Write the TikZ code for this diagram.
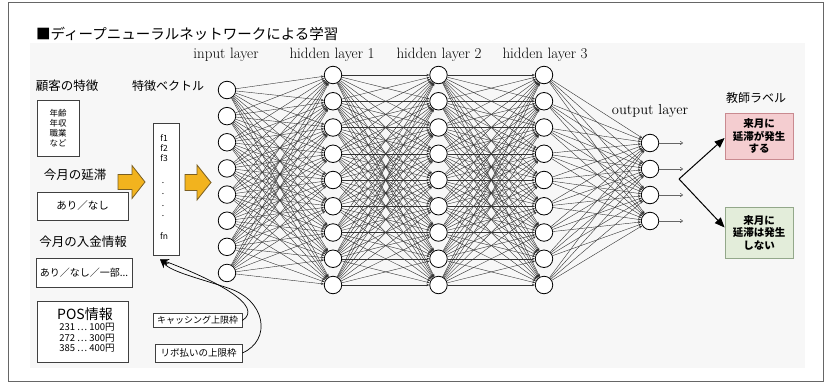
\documentclass[tikz,border=0pt]{standalone}
\usepackage{fontspec}
\newfontfamily\jp{Noto Sans CJK JP}
\usetikzlibrary{arrows.meta,calc}
\definecolor{yarrow}{HTML}{F2B31E}
\definecolor{yedge}{HTML}{7A5E22}
\definecolor{pinkfill}{HTML}{F4CDD0}
\definecolor{pinkedge}{HTML}{C98A90}
\definecolor{greenfill}{HTML}{E3EDDA}
\definecolor{greenedge}{HTML}{93A88A}
\begin{document}
\begin{tikzpicture}[x=1pt,y=-1pt,
  neuron/.style={circle,draw=black,line width=0.8pt,fill=white,minimum size=17.5pt,inner sep=0pt},
  conn/.style={draw=black!80,line width=0.4pt,-{Stealth[length=3pt,width=2.4pt]}},
  outarrow/.style={draw=black!60,line width=0.6pt,-{To[length=3pt,width=4pt]}},
  bigarrow/.style={draw=black,line width=1pt,-{Triangle[length=10pt,width=8pt]}},
  curvearrow/.style={draw=black,line width=0.7pt,-{Stealth[length=9pt,width=7pt]}},
  layerlbl/.style={font=\fontsize{15}{17}\selectfont,inner sep=0pt},
  jplbl/.style={font=\jp\fontsize{12.5}{14}\selectfont,inner sep=0pt},
  plainbox/.style={draw=black!75,line width=0.7pt,fill=white,inner sep=0pt},
  smalltxt/.style={font=\jp\fontsize{8.5}{10}\selectfont,inner sep=0pt},
  labelbox/.style={line width=0.8pt,inner sep=0pt,align=center,font=\jp\bfseries\fontsize{10.5}{12.5}\selectfont},
]
\useasboundingbox (0,0) rectangle (832,383);
\fill[white] (0,0) rectangle (832,383);
\fill[black!3] (30,43) rectangle (805,368);
\draw[black!60,line width=0.8pt] (8.5,2.5) rectangle (823,381.5);

% title
\node[anchor=west,inner sep=0pt,font=\jp\fontsize{14.5}{16}\selectfont] (title) at (36,34) {■ディープニューラルネットワークによる学習};

% layer labels
\node[layerlbl] (lin) at (226,55) {input layer};
\node[layerlbl] (lh1) at (332,55) {hidden layer 1};
\node[layerlbl] (lh2) at (439,55) {hidden layer 2};
\node[layerlbl] (lh3) at (545,55) {hidden layer 3};
\node[layerlbl,font=\fontsize{14.5}{16}\selectfont] (lout) at (650,111) {output layer};

% network nodes
\foreach \i in {1,...,8} \node[neuron] (in-\i) at (227,{90+26.14*(\i-1)}) {};
\foreach \k in {1,...,9} {
  \node[neuron] (h1-\k) at (333,{75+26.25*(\k-1)}) {};
  \node[neuron] (h2-\k) at (438.5,{75+26.25*(\k-1)}) {};
  \node[neuron] (h3-\k) at (544,{75+26.25*(\k-1)}) {};
}
\foreach \j in {1,...,4} \node[neuron] (out-\j) at (650,{143+26*(\j-1)}) {};

% connections
\foreach \i in {1,...,8} \foreach \k in {1,...,9} \draw[conn] (in-\i) -- (h1-\k);
\foreach \i in {1,...,9} \foreach \k in {1,...,9} {
  \draw[conn] (h1-\i) -- (h2-\k);
  \draw[conn] (h2-\i) -- (h3-\k);
}
\foreach \i in {1,...,9} \foreach \k in {1,...,4} \draw[conn] (h3-\i) -- (out-\k);

% output arrows
\foreach \j in {1,...,4} {
  \coordinate (oe-\j) at (683,{143+26*(\j-1)});
  \draw[outarrow] (out-\j) -- (oe-\j);
}

% teacher labels
\node[jplbl,font=\jp\fontsize{12}{14}\selectfont] (teach) at (756,98) {教師ラベル};
\node[labelbox,draw=pinkedge,fill=pinkfill,minimum width=68pt,minimum height=46pt] (pink) at (759,136) {来月に\\延滞が発生\\する};
\node[labelbox,draw=greenedge,fill=greenfill,minimum width=68pt,minimum height=51pt] (green) at (759,232.5) {来月に\\延滞は発生\\しない};
\coordinate (vtx) at (679,179);
\draw[bigarrow] (vtx) -- ($(pink.west)+(0,2)$);
\draw[bigarrow] (vtx) -- ($(green.west)+(0,-5)$);

% left side labels
\node[jplbl] (feat) at (67,86) {顧客の特徴};
\node[jplbl,font=\jp\fontsize{12}{14}\selectfont] (vec) at (168,86) {特徴ベクトル};
\node[jplbl] (delay) at (75,175) {今月の延滞};
\node[jplbl] (pay) at (83,242) {今月の入金情報};

% left boxes
\node[plainbox,minimum width=42pt,minimum height=56pt,align=center,font=\jp\fontsize{8.5}{10}\selectfont] (attr) at (58,128) {年齢\\年収\\職業\\など};
\node[plainbox,minimum width=91pt,minimum height=28pt,font=\jp\fontsize{10.5}{12}\selectfont] (delaybox) at (82.5,206) {あり／なし};
\node[plainbox,minimum width=96pt,minimum height=29pt,font=\jp\fontsize{10}{12}\selectfont] (paybox) at (84,272.5) {あり／なし／一部...};
\node[plainbox,minimum width=91pt,minimum height=61pt] (posbox) at (82.5,331.5) {};
\node[inner sep=0pt,font=\jp\fontsize{14}{15}\selectfont] (postitle) at (85,314) {POS情報};
\node[inner sep=0pt,font=\jp\fontsize{9.5}{10.5}\selectfont,align=left] (poslines) at (87,338) {231 ⋯ 100円\\272 ⋯ 300円\\385 ⋯ 400円};

% feature vector
\node[plainbox,minimum width=26pt,minimum height=132pt] (fv) at (166,189) {};
\node[smalltxt] (f1) at (164,138) {f1};
\node[smalltxt] (f2) at (164,148) {f2};
\node[smalltxt] (f3) at (164,158) {f3};
\node[smalltxt] (d1) at (163,183) {.};
\node[smalltxt] (d2) at (163,194) {.};
\node[smalltxt] (d3) at (163,206) {.};
\node[smalltxt] (d4) at (163,216) {.};
\node[smalltxt] (fn) at (164,236) {fn};

% yellow block arrows
\draw[fill=yarrow,draw=yedge,line width=0.8pt,line join=miter]
  (118,174.5) -- (132,174.5) -- (132,165.5) -- (145,182) -- (132,198.5) -- (132,189.5) -- (118,189.5) -- cycle;
\draw[fill=yarrow,draw=yedge,line width=0.8pt,line join=miter]
  (185,174.5) -- (197,174.5) -- (197,165) -- (211,182.5) -- (197,200) -- (197,190.5) -- (185,190.5) -- cycle;

% limit boxes
\node[plainbox,minimum width=89pt,minimum height=14pt,font=\jp\fontsize{9}{10}\selectfont] (cash) at (197.5,320.5) {キャッシング上限枠};
\node[plainbox,minimum width=87pt,minimum height=18pt,font=\jp\fontsize{9.5}{11}\selectfont] (ribo) at (198.5,353) {リボ払いの上限枠};

\coordinate (fvin) at ($(fv.south)+(-6,4)$);
\draw[curvearrow] (cash.east) .. controls (265,306) and (215,280) .. (fvin);
\draw[curvearrow] (ribo.east) .. controls (272,340) and (266,300) .. (228,288) .. controls (198,278) and (172,272) .. (fvin);
\end{tikzpicture}
\end{document}
